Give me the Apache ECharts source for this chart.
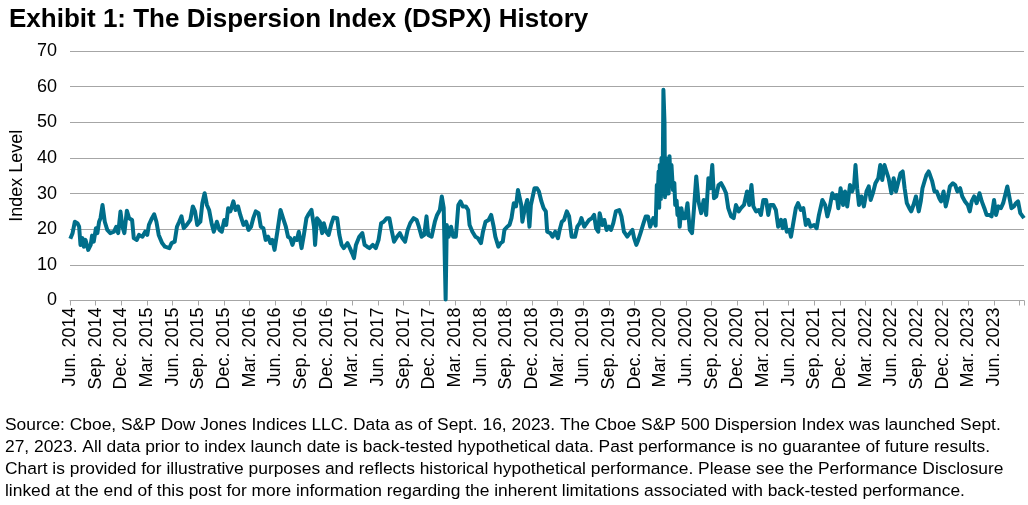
<!DOCTYPE html>
<html>
<head>
<meta charset="utf-8">
<script src="https://cdn.jsdelivr.net/npm/echarts@6/dist/echarts.min.js"></script>
<style>
html,body{margin:0;padding:0;background:#fff;}
#c{width:1028px;height:505px;}
</style>
</head>
<body>
<div id="c"></div>
<script>
const titleText = 'Exhibit 1: The Dispersion Index (DSPX) History';
const yAxisName = 'Index Level';
const footnoteLines = [
  'Source: Cboe, S&P Dow Jones Indices LLC. Data as of Sept. 16, 2023. The Cboe S&P 500 Dispersion Index was launched Sept.',
  '27, 2023. All data prior to index launch date is back-tested hypothetical data. Past performance is no guarantee of future results.',
  'Chart is provided for illustrative purposes and reflects historical hypothetical performance. Please see the Performance Disclosure',
  'linked at the end of this post for more information regarding the inherent limitations associated with back-tested performance.'
];
const tickLabels = [
  'Jun. 2014','Sep. 2014','Dec. 2014','Mar. 2015','Jun. 2015','Sep. 2015','Dec. 2015','Mar. 2016','Jun. 2016','Sep. 2016',
  'Dec. 2016','Mar. 2017','Jun. 2017','Sep. 2017','Dec. 2017','Mar. 2018','Jun. 2018','Sep. 2018','Dec. 2018','Mar. 2019',
  'Jun. 2019','Sep. 2019','Dec. 2019','Mar. 2020','Jun. 2020','Sep. 2020','Dec. 2020','Mar. 2021','Jun. 2021','Sep. 2021',
  'Dec. 2021','Mar. 2022','Jun. 2022','Sep. 2022','Dec. 2022','Mar. 2023','Jun. 2023'
];
const axisStart = '2014-06-01';
const axisEnd = '2023-09-16';

const dates = [
'2014-06-02','2014-06-10','2014-06-18','2014-06-27','2014-07-03','2014-07-08','2014-07-15','2014-07-20','2014-07-26','2014-08-05',
'2014-08-14','2014-08-19','2014-08-25','2014-09-02','2014-09-07','2014-09-13','2014-09-18','2014-09-25','2014-10-03','2014-10-12',
'2014-10-23','2014-11-05','2014-11-13','2014-11-20','2014-11-28','2014-12-05','2014-12-12','2014-12-21','2014-12-29',
'2015-01-09','2015-01-15','2015-01-26','2015-02-03','2015-02-14','2015-02-23','2015-03-02','2015-03-08','2015-03-19','2015-03-27',
'2015-04-04','2015-04-12','2015-04-24','2015-05-04','2015-05-11','2015-05-20','2015-05-28','2015-06-08','2015-06-16','2015-06-24',
'2015-07-02','2015-07-10','2015-07-21','2015-08-03','2015-08-12','2015-08-20','2015-08-28','2015-09-08','2015-09-15','2015-09-23',
'2015-10-01','2015-10-09','2015-10-18','2015-10-26','2015-11-06','2015-11-15','2015-11-23','2015-12-02','2015-12-09','2015-12-16','2015-12-24',
'2016-01-04','2016-01-12','2016-01-21','2016-01-29','2016-02-09','2016-02-18','2016-02-26','2016-03-06','2016-03-14','2016-03-23',
'2016-04-02','2016-04-10','2016-04-19','2016-04-27','2016-05-06','2016-05-14','2016-05-21','2016-05-29','2016-06-09','2016-06-19',
'2016-06-28','2016-07-08','2016-07-16','2016-07-24','2016-08-01','2016-08-09','2016-08-17','2016-08-24','2016-09-03','2016-09-11',
'2016-09-20','2016-09-26','2016-10-08','2016-10-17','2016-10-21','2016-10-28','2016-11-07','2016-11-15','2016-11-21','2016-11-29',
'2016-12-08','2016-12-17','2016-12-26',
'2017-01-08','2017-01-16','2017-01-24','2017-02-01','2017-02-13','2017-02-21','2017-02-28','2017-03-07','2017-03-14','2017-03-26',
'2017-04-06','2017-04-14','2017-04-23','2017-05-01','2017-05-13','2017-05-24','2017-06-03','2017-06-12','2017-06-21','2017-07-02',
'2017-07-11','2017-07-19','2017-07-28','2017-08-08','2017-08-18','2017-08-27','2017-09-06','2017-09-15','2017-09-24','2017-10-06',
'2017-10-17','2017-10-25','2017-11-04','2017-11-13','2017-11-21','2017-11-27','2017-12-09','2017-12-21','2017-12-29',
'2018-01-08','2018-01-15','2018-01-22','2018-01-29','2018-02-02','2018-02-08','2018-02-16','2018-02-23','2018-03-04','2018-03-13',
'2018-03-21','2018-03-29','2018-04-09','2018-04-17','2018-04-22','2018-05-02','2018-05-13','2018-05-22','2018-06-02','2018-06-09',
'2018-06-18','2018-06-29','2018-07-08','2018-07-17','2018-07-23','2018-08-03','2018-08-11','2018-08-19','2018-08-25','2018-09-04',
'2018-09-12','2018-09-19','2018-09-27','2018-10-05','2018-10-12','2018-10-18','2018-10-24','2018-10-28','2018-11-05','2018-11-14',
'2018-11-22','2018-11-27','2018-12-03','2018-12-10','2018-12-19','2018-12-26',
'2019-01-04','2019-01-12','2019-01-20','2019-01-25','2019-02-05','2019-02-12','2019-02-21','2019-03-02','2019-03-08','2019-03-16',
'2019-03-24','2019-04-03','2019-04-11','2019-04-20','2019-05-02','2019-05-10','2019-05-19','2019-05-25','2019-06-04','2019-06-13',
'2019-06-21','2019-07-01','2019-07-09','2019-07-16','2019-07-24','2019-07-29','2019-08-08','2019-08-15','2019-08-23','2019-09-01',
'2019-09-08','2019-09-16','2019-09-25','2019-10-07','2019-10-15','2019-10-24','2019-11-05','2019-11-14','2019-11-23','2019-11-29',
'2019-12-07','2019-12-14','2019-12-22',
'2020-01-02','2020-01-10','2020-01-18','2020-01-26','2020-02-06','2020-02-14','2020-02-18','2020-02-20','2020-02-24','2020-02-26',
'2020-02-28','2020-03-03','2020-03-05','2020-03-09','2020-03-12','2020-03-16','2020-03-18','2020-03-20','2020-03-24','2020-03-27',
'2020-03-31','2020-04-03','2020-04-07','2020-04-10','2020-04-15','2020-04-20','2020-04-23','2020-04-28','2020-05-01','2020-05-05',
'2020-05-09','2020-05-15','2020-05-21','2020-05-29','2020-06-06','2020-06-14','2020-06-22','2020-06-29','2020-07-07','2020-07-15',
'2020-07-25','2020-08-03','2020-08-12','2020-08-20','2020-08-27','2020-09-03','2020-09-09','2020-09-17','2020-09-25','2020-10-04',
'2020-10-14','2020-10-22','2020-10-30','2020-11-09','2020-11-18','2020-11-26','2020-12-06','2020-12-14','2020-12-25',
'2021-01-05','2021-01-13','2021-01-21','2021-01-28','2021-02-06','2021-02-15','2021-02-22','2021-03-02','2021-03-12','2021-03-20',
'2021-03-27','2021-04-07','2021-04-16','2021-04-24','2021-05-04','2021-05-10','2021-05-18','2021-05-25','2021-06-03','2021-06-09',
'2021-06-17','2021-06-26','2021-07-04','2021-07-14','2021-07-23','2021-08-01','2021-08-10','2021-08-18','2021-08-31','2021-09-09',
'2021-09-17','2021-09-29','2021-10-09','2021-10-17','2021-10-25','2021-11-04','2021-11-12','2021-11-19','2021-11-25','2021-12-03',
'2021-12-12','2021-12-19','2021-12-27',
'2022-01-06','2022-01-14','2022-01-21','2022-01-26','2022-02-01','2022-02-07','2022-02-15','2022-02-23','2022-03-04','2022-03-12',
'2022-03-19','2022-03-27','2022-04-05','2022-04-15','2022-04-22','2022-04-29','2022-05-07','2022-05-14','2022-05-22','2022-06-01',
'2022-06-09','2022-06-17','2022-06-24','2022-07-03','2022-07-11','2022-07-18','2022-07-26','2022-08-04','2022-08-11','2022-08-19',
'2022-08-28','2022-09-07','2022-09-14','2022-09-20','2022-09-27','2022-10-04','2022-10-12','2022-10-17','2022-10-25','2022-11-02',
'2022-11-10','2022-11-19','2022-11-25','2022-12-04','2022-12-12','2022-12-19','2022-12-27',
'2023-01-07','2023-01-15','2023-01-23','2023-02-02','2023-02-09','2023-02-18','2023-02-27','2023-03-06','2023-03-13','2023-03-22',
'2023-03-31','2023-04-10','2023-04-18','2023-04-27','2023-05-05','2023-05-15','2023-05-23','2023-06-01','2023-06-08','2023-06-16',
'2023-06-25','2023-07-03','2023-07-12','2023-07-18','2023-07-25','2023-08-02','2023-08-11','2023-08-18','2023-08-26','2023-09-03',
'2023-09-10','2023-09-16'
];

const dspx = [
17.3,18.9,22.1,21.7,20.7,15.6,17.5,15.1,17.0,14.2,
15.6,18.2,16.5,20.3,18.9,22.1,23.1,26.8,22.1,19.8,
18.9,19.3,20.7,18.9,25.0,20.7,18.9,25.2,23.1,
22.6,17.5,17.0,18.4,17.9,19.3,18.4,21.2,23.1,24.2,
22.1,18.4,16.1,15.1,15.6,14.7,16.1,16.5,20.7,22.1,
23.6,20.3,21.2,22.6,26.4,25.0,21.2,22.1,27.3,30.1,
26.8,25.4,21.7,19.3,22.1,19.8,19.3,22.6,21.2,25.9,25.0,
27.8,25.4,26.4,24.0,21.2,22.1,19.8,20.7,23.1,25.0,
24.5,20.7,20.3,17.0,17.9,16.1,17.0,14.2,19.8,25.4,
23.1,20.7,17.9,17.5,15.6,17.5,17.0,19.3,14.7,18.4,
23.1,24.0,25.4,20.7,15.6,23.1,22.1,18.9,21.7,19.3,
18.4,21.2,23.3,
23.1,18.4,15.6,14.7,16.1,14.7,13.3,11.9,15.6,17.9,
18.9,15.6,15.1,14.7,15.6,14.7,17.0,21.7,22.1,23.1,
23.1,19.8,16.5,17.9,18.9,17.5,16.5,19.8,21.7,23.1,
22.6,20.7,17.9,18.4,23.6,18.4,17.9,22.1,24.0,
25.4,29.2,26.0,0.3,21.2,17.9,20.7,17.9,17.9,26.8,
27.8,26.4,26.4,25.4,21.2,19.3,17.9,17.5,16.1,19.3,
22.1,22.6,24.0,20.7,17.9,15.1,16.1,16.5,19.8,20.7,
21.2,23.1,27.3,26.4,31.0,30.6,26.8,22.1,25.4,28.2,
20.7,26.8,26.8,31.5,31.5,30.6,
27.8,25.9,25.0,19.3,18.9,17.9,19.3,17.5,19.8,22.1,
22.6,25.0,23.6,17.9,17.9,20.7,21.7,23.1,20.7,21.7,
22.6,23.1,24.0,20.3,19.3,24.5,21.2,22.6,19.8,20.7,
19.8,21.7,25.0,25.4,23.6,19.3,17.9,18.9,19.8,17.5,
15.6,17.0,18.9,
21.7,23.6,23.6,20.7,23.1,21.0,32.4,27.0,36.2,26.0,
38.0,28.5,40.0,30.0,59.1,50.0,29.0,40.0,30.0,39.5,
30.0,40.5,33.0,38.0,31.0,33.0,26.8,28.0,24.0,25.9,
20.7,25.9,23.1,23.1,27.3,19.8,18.9,25.9,34.8,27.8,
24.5,28.2,24.0,34.3,31.5,38.0,28.7,29.2,32.4,32.9,
31.5,30.1,25.9,23.6,23.1,26.8,25.0,25.9,26.8,
30.6,26.8,32.4,26.4,25.0,25.4,24.0,28.2,28.2,24.0,
26.8,26.8,25.4,20.7,22.6,20.3,22.6,19.3,19.8,17.9,
21.7,25.9,27.3,25.4,25.9,21.2,22.6,20.7,21.2,20.3,
24.0,28.2,26.8,23.6,25.9,30.1,28.7,29.6,25.9,31.5,
26.8,30.6,26.4,
32.4,30.6,32.4,38.0,31.5,26.8,29.2,26.4,30.6,32.0,
28.2,30.1,32.9,34.3,38.0,33.8,38.0,36.2,34.3,30.1,
34.3,30.6,30.6,35.7,36.2,31.5,27.3,25.9,25.0,26.8,
29.2,25.0,27.8,31.5,33.4,35.2,36.2,35.2,33.4,30.6,
30.6,28.7,27.8,30.6,26.4,28.7,32.0,
32.9,32.4,30.6,31.5,29.2,27.8,26.8,25.0,27.8,29.2,
27.3,30.1,27.8,25.9,24.0,24.0,23.6,28.2,24.0,26.4,
25.9,27.3,30.1,32.0,29.2,25.9,26.4,27.3,27.8,24.5,
24.0,23.1
];

const FONT = '"Liberation Sans", Arial, Helvetica, sans-serif';

// months elapsed since June 2014 (fractional within a month)
function monthIndex(s) {
  const p = s.split('-').map(Number);
  const dim = new Date(p[0], p[1], 0).getDate();
  return (p[0] - 2014) * 12 + (p[1] - 6) + (p[2] - 1) / dim;
}

const chart = echarts.init(document.getElementById('c'), null, {renderer: 'canvas'});
chart.setOption({
  animation: false,
  backgroundColor: '#ffffff',
  title: {
    text: titleText, left: 4, top: 2,
    textStyle: {fontFamily: FONT, fontWeight: 'bold', fontSize: 26, color: '#000'}
  },
  grid: {left: 66, right: 4, top: 51, bottom: 204.5, containLabel: false},
  xAxis: {
    type: 'value', min: monthIndex(axisStart), max: monthIndex(axisEnd), interval: 3,
    axisLine: {show: true, lineStyle: {color: '#a6a6a6', width: 1}},
    axisTick: {show: true, length: 5, lineStyle: {color: '#a6a6a6'}},
    splitLine: {show: false},
    axisLabel: {
      rotate: 90, margin: 7, fontSize: 18, color: '#000', fontFamily: FONT,
      formatter: function (v) {
        if (Math.abs(v / 3 - Math.round(v / 3)) > 1e-6) return '';
        return tickLabels[Math.round(v / 3)] || '';
      }
    }
  },
  yAxis: {
    type: 'value', min: 0, max: 70, interval: 10,
    name: yAxisName, nameLocation: 'middle', nameRotate: 90, nameGap: 44,
    nameTextStyle: {fontFamily: FONT, fontSize: 18, color: '#000'},
    axisLine: {show: false}, axisTick: {show: false},
    splitLine: {lineStyle: {color: '#a6a6a6', width: 1}},
    axisLabel: {fontSize: 18, color: '#000', fontFamily: FONT, margin: 13}
  },
  series: [{
    type: 'line',
    data: dates.map((d, i) => [monthIndex(d), dspx[i]]),
    showSymbol: false,
    lineStyle: {color: '#006E8A', width: 4, join: 'round'},
    itemStyle: {color: '#006E8A'}
  }],
  graphic: [{
    type: 'text', left: 5, top: 414,
    style: {
      text: footnoteLines.join('\n'),
      font: '17.4px ' + FONT,
      lineHeight: 22,
      fill: '#000'
    }
  }]
});
</script>
</body>
</html>
